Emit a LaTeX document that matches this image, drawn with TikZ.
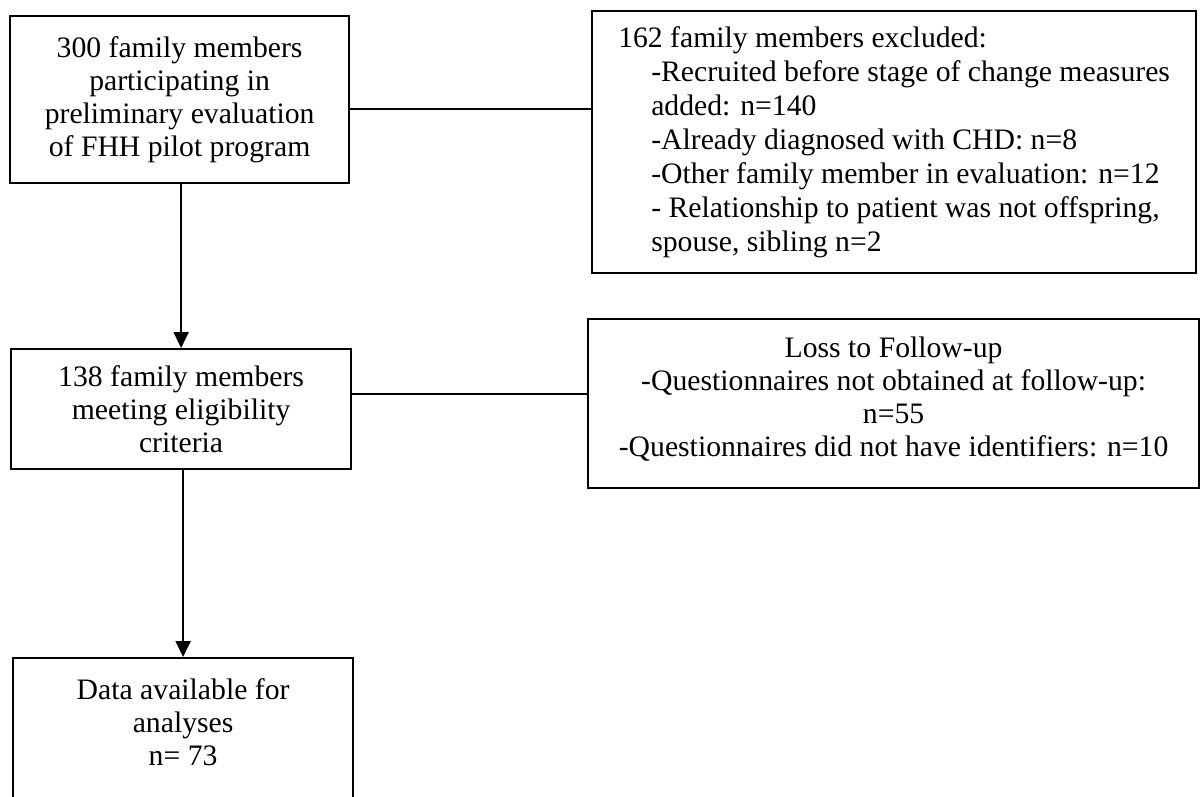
\documentclass[tikz,border=0pt]{standalone}
\usepackage{fontspec}
\setmainfont{Liberation Serif}
\usetikzlibrary{arrows.meta,positioning,calc}
\tikzset{
  stagebox/.style={draw,line width=2.2pt,align=center,inner sep=0pt,font=\fontsize{29.7pt}{33pt}\selectfont},
  sidebox/.style={stagebox,align=left,font=\fontsize{29.7pt}{34pt}\selectfont},
  arr/.style={-{Triangle[length=16pt,width=15pt]},line width=2pt},
  link/.style={line width=2.2pt}
}
\begin{document}
\begin{tikzpicture}[x=1pt,y=-1pt]
  \useasboundingbox (0,0) rectangle (1204,797);
  \clip (0,0) rectangle (1204,797);
  % main flow
  \node[stagebox,anchor=north west,minimum width=339pt,minimum height=167pt] (pool) at (9,15) {300 family members\\participating in\\preliminary evaluation\\of FHH pilot program};
  \node[stagebox,anchor=north west,minimum width=340pt,minimum height=120pt] (elig) at (10,348) {138 family members\\meeting eligibility\\criteria};
  \node[stagebox,anchor=north west,minimum width=340pt,inner ysep=20pt] (data) at (12,657) {Data available for\\analyses\\n= 73\rule[-60pt]{0pt}{0pt}};
  % side boxes
  \node[sidebox,anchor=north west,minimum width=604pt,minimum height=262pt] (excl) at (591,10) {162 family members excluded:\\
    \hspace*{33pt}-Recruited before stage of change measures\\
    \hspace*{33pt}added: n=140\\
    \hspace*{33pt}-Already diagnosed with CHD: n=8\\
    \hspace*{33pt}-Other family member in evaluation: n=12\\
    \hspace*{33pt}- Relationship to patient was not offspring,\\
    \hspace*{33pt}spouse, sibling n=2};
  \node[stagebox,anchor=north west,minimum width=611pt,minimum height=169pt] (loss) at (587,318) {Loss to Follow-up\\-Questionnaires not obtained at follow-up:\\n=55\\-Questionnaires did not have identifiers: n=10\rule[-14pt]{0pt}{0pt}};
  % connectors
  \draw[arr] (elig.north |- pool.south) -- (elig.north);
  \draw[arr] (data.north |- elig.south) -- (data.north);
  \draw[link] ([yshift=-9.5pt]pool.east) -- ([yshift=-9.5pt]pool.east -| excl.west);
  \draw[link] ([yshift=15pt]elig.east) -- ([yshift=15pt]elig.east -| loss.west);
\end{tikzpicture}
\end{document}
